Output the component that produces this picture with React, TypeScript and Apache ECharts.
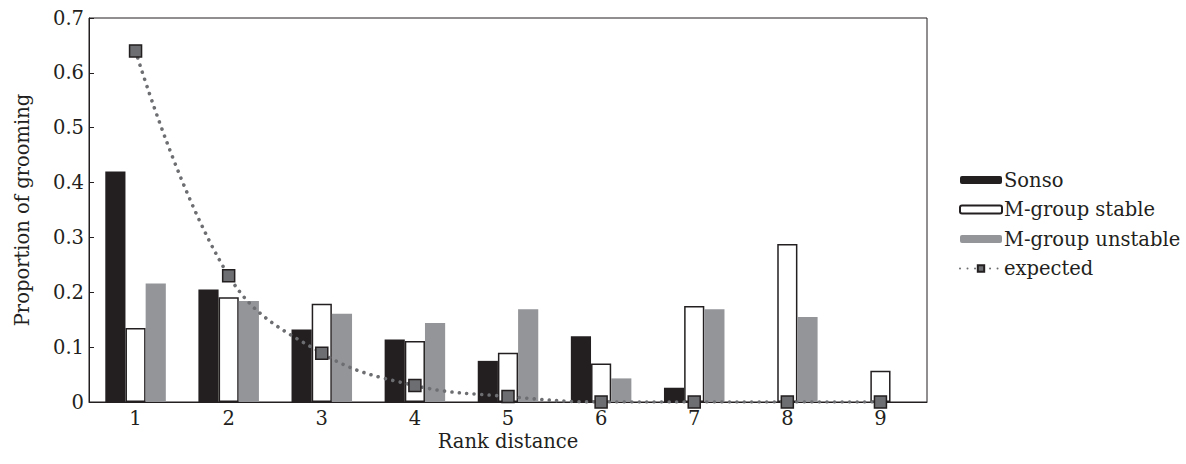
import React, { useEffect, useRef } from "react";
import * as echarts from "echarts";

const categories = ["1", "2", "3", "4", "5", "6", "7", "8", "9"];
const sonso = [0.42, 0.205, 0.132, 0.114, 0.075, 0.12, 0.026, 0, 0];
const stable = [0.135, 0.191, 0.179, 0.111, 0.09, 0.07, 0.175, 0.288, 0.057];
const unstable = [0.216, 0.184, 0.161, 0.144, 0.169, 0.043, 0.169, 0.155, 0];
const expected = [0.64, 0.23, 0.089, 0.03, 0.01, 0, 0, 0, 0];

const FONT = "DejaVu Serif";
const INK = "#231f20";
const FS = 19.5;

export default function App() {
  const ref = useRef<HTMLDivElement>(null);
  useEffect(() => {
    if (!ref.current) return;
    const chart = echarts.init(ref.current, null, { renderer: "svg" });
    chart.setOption({
      animation: false,
      backgroundColor: "#fff",
      textStyle: { fontFamily: FONT, color: INK },
      grid: {
        left: 89,
        right: 259,
        top: 18,
        bottom: 62,
        show: true,
        borderColor: INK,
        borderWidth: 1,
        backgroundColor: "transparent",
      },
      legend: {
        orient: "vertical",
        left: 954,
        top: 165,
        itemWidth: 42,
        itemHeight: 8,
        itemGap: 9.5,
        textStyle: { fontFamily: FONT, fontSize: FS, color: INK, padding: [0, 0, 0, -3] },
        data: ["Sonso", "M-group stable", "M-group unstable", "expected"],
      },
      xAxis: {
        type: "category",
        data: categories,
        name: "Rank distance",
        nameLocation: "middle",
        nameGap: 29,
        nameMoveOverlap: false,
        nameTextStyle: { fontFamily: FONT, fontSize: FS, color: INK },
        axisLine: { lineStyle: { color: INK, width: 1 } },
        axisTick: { inside: true, length: 5, lineStyle: { color: INK } },
        axisLabel: { fontFamily: FONT, fontSize: FS, color: INK, margin: 6 },
      },
      yAxis: {
        type: "value",
        min: 0,
        max: 0.7,
        interval: 0.1,
        name: "Proportion of grooming",
        nameLocation: "middle",
        nameGap: 57,
        nameMoveOverlap: false,
        nameTextStyle: { fontFamily: FONT, fontSize: FS, color: INK },
        splitLine: { show: false },
        axisLine: { show: true, lineStyle: { color: INK, width: 1 } },
        axisTick: { show: true, inside: true, length: 5, lineStyle: { color: INK } },
        axisLabel: {
          fontFamily: FONT,
          fontSize: FS,
          color: INK,
          margin: 5,
          formatter: (v: number) => (v === 0 ? "0" : v.toFixed(1)),
        },
      },
      series: [
        {
          name: "Sonso",
          type: "bar",
          data: sonso,
          barGap: "0%",
          barCategoryGap: "35%",
          itemStyle: { color: INK },
        },
        {
          name: "M-group stable",
          type: "bar",
          data: stable,
          itemStyle: { color: "#ffffff", borderColor: INK, borderWidth: 1.5 },
        },
        {
          name: "M-group unstable",
          type: "bar",
          data: unstable,
          itemStyle: { color: "#939598" },
        },
        {
          name: "expected",
          type: "line",
          data: expected,
          smooth: 0.4,
          symbol: "rect",
          symbolSize: 12,
          z: 5,
          itemStyle: { color: "#6d6e71", borderColor: INK, borderWidth: 1.5 },
          lineStyle: { color: "#6d6e71", width: 3.6, type: [0.01, 7.5], cap: "round" },
        },
      ],
    });
    return () => chart.dispose();
  }, []);
  return (
    <div
      ref={ref}
      style={{ position: "fixed", left: 0, top: 0, width: 1186, height: 464, background: "#fff" }}
    />
  );
}
